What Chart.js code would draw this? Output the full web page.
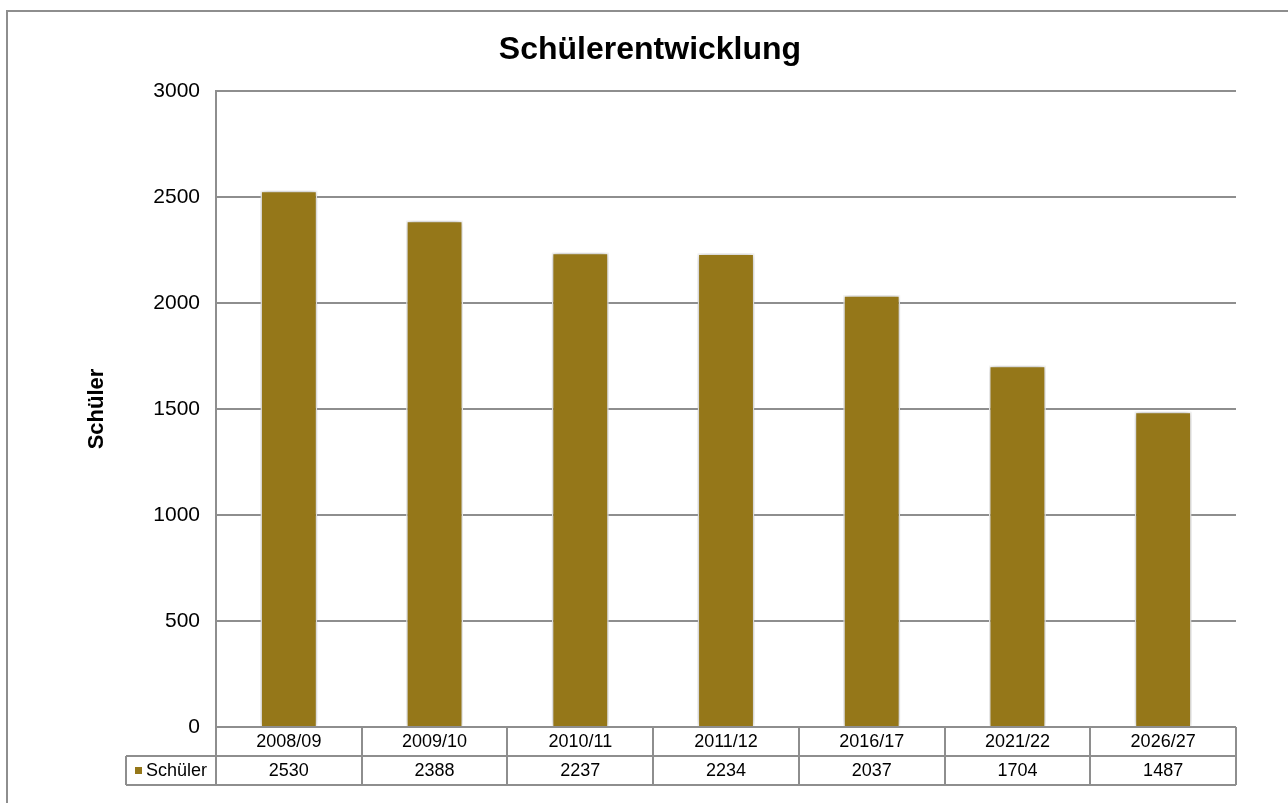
<!DOCTYPE html>
<html>
<head>
<meta charset="utf-8">
<title>Schülerentwicklung</title>
<script src="https://cdn.jsdelivr.net/npm/chart.js@4"></script>
<style>
  html, body { margin: 0; padding: 0; background: #fff; }
  #wrap { width: 1288px; height: 803px; }
</style>
</head>
<body>
<div id="wrap"><canvas id="chart" width="1288" height="803"></canvas></div>
<script>
// Data
const years = ["2008/09", "2009/10", "2010/11", "2011/12", "2016/17", "2021/22", "2026/27"];
const students = [2530, 2388, 2237, 2234, 2037, 1704, 1487];
const seriesName = "Schüler";
const yTicks = [0, 500, 1000, 1500, 2000, 2500, 3000];

const FONT = "'Liberation Sans', Arial, sans-serif";
const BAR_COLOR = "#957719";
const LINE_COLOR = "#8e8e8e";

// Outer frame + white background
const framePlugin = {
  id: "frame",
  beforeDraw(chart) {
    const ctx = chart.ctx;
    ctx.save();
    ctx.fillStyle = "#fff";
    ctx.fillRect(0, 0, chart.width, chart.height);
    ctx.strokeStyle = LINE_COLOR;
    ctx.lineWidth = 2;
    ctx.strokeRect(7, 11, chart.width + 20, chart.height + 20);
    ctx.restore();
  },
};

// soft shadow around the bars
const shadowPlugin = {
  id: "barShadow",
  beforeDatasetsDraw(chart) {
    const ctx = chart.ctx;
    ctx.save();
    ctx.shadowColor = "rgba(0,0,0,0.35)";
    ctx.shadowBlur = 7;
    ctx.shadowOffsetX = 0;
    ctx.shadowOffsetY = 0;
  },
  afterDatasetsDraw(chart) {
    chart.ctx.restore();
  },
};

// Data table under the plot (like Excel)
const tablePlugin = {
  id: "dataTable",
  afterDraw(chart) {
    const ctx = chart.ctx;
    const xs = chart.scales.x;
    const area = chart.chartArea;
    const labels = chart.data.labels;
    const values = chart.data.datasets[0].data;
    const rowH = 29;
    const keyLeft = 126;
    const top = area.bottom;
    const mid = top + rowH;
    const bot = mid + rowH;
    const half = (xs.getPixelForValue(1) - xs.getPixelForValue(0)) / 2;

    ctx.save();
    ctx.strokeStyle = LINE_COLOR;
    ctx.lineWidth = 2;
    ctx.beginPath();
    ctx.moveTo(area.left, top); ctx.lineTo(area.right, top);
    ctx.moveTo(keyLeft, mid); ctx.lineTo(area.right, mid);
    ctx.moveTo(keyLeft, bot); ctx.lineTo(area.right, bot);
    ctx.moveTo(keyLeft, mid); ctx.lineTo(keyLeft, bot);
    for (let i = 0; i <= labels.length; i++) {
      const x = Math.round(xs.getPixelForValue(i) - half);
      ctx.moveTo(x, top); ctx.lineTo(x, bot);
    }
    ctx.stroke();

    ctx.fillStyle = "#000";
    ctx.font = "18px " + FONT;
    ctx.textAlign = "center";
    ctx.textBaseline = "middle";
    labels.forEach((lab, i) => {
      const x = xs.getPixelForValue(i);
      ctx.fillText(lab, x, top + rowH / 2 + 1);
      ctx.fillText(String(values[i]), x, mid + rowH / 2 + 1);
    });

    // legend key
    ctx.fillStyle = BAR_COLOR;
    ctx.fillRect(keyLeft + 9, mid + 11, 7, 7);
    ctx.fillStyle = "#000";
    ctx.textAlign = "left";
    ctx.fillText(chart.data.datasets[0].label, keyLeft + 20, mid + rowH / 2 + 1);
    ctx.restore();
  },
};

const ctx = document.getElementById("chart").getContext("2d");
const chart = new Chart(ctx, {
  type: "bar",
  data: {
    labels: years,
    datasets: [
      {
        label: seriesName,
        data: students,
        backgroundColor: BAR_COLOR,
        borderColor: "#ffffff",
        borderWidth: 1.5,
        barPercentage: 0.39,
        categoryPercentage: 1.0,
      },
    ],
  },
  options: {
    responsive: false,
    devicePixelRatio: 1,
    animation: false,
    layout: { padding: { left: 64, right: 52, top: 0, bottom: 0 } },
    plugins: {
      legend: { display: false },
      tooltip: { enabled: false },
      title: {
        display: true,
        text: "Schülerentwicklung",
        color: "#000",
        font: { family: FONT, size: 32, weight: "bold" },
        padding: { top: 31, bottom: 21.6 },
      },
    },
    scales: {
      x: {
        grid: { display: false },
        border: { display: false },
        ticks: { display: false },
        afterFit: (s) => { s.height = 76; },
      },
      y: {
        min: 0,
        max: 3000,
        afterBuildTicks: (s) => { s.ticks = yTicks.map((v) => ({ value: v })); },
        afterFit: (s) => { s.width = 152; },
        grid: { color: LINE_COLOR, lineWidth: 2, drawTicks: false },
        border: { display: true, color: LINE_COLOR, width: 2 },
        ticks: {
          color: "#000",
          padding: 16,
          font: { family: FONT, size: 21 },
          callback: (v) => String(v),
        },
        title: {
          display: true,
          text: "Schüler",
          color: "#000",
          font: { family: FONT, size: 22, weight: "bold" },
          padding: { top: 20, bottom: 0 },
        },
      },
    },
  },
  plugins: [framePlugin, shadowPlugin, tablePlugin],
});
</script>
</body>
</html>
